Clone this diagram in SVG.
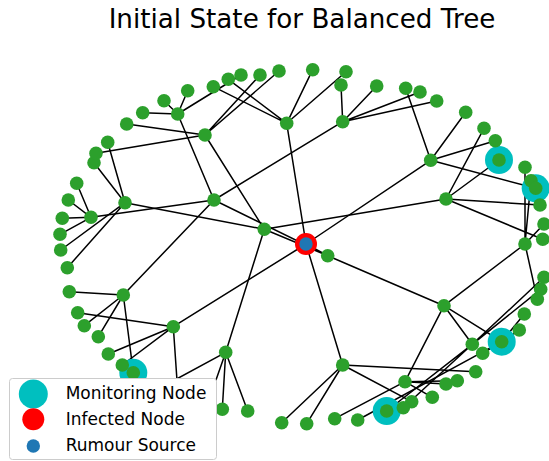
<svg xmlns="http://www.w3.org/2000/svg" width="549" height="461" viewBox="0 0 549 461">
<style>
.e{stroke:#000;stroke-width:1.5;fill:none}
.n{fill:#2ca02c}
.m{fill:#00bfbf}
.t{font-family:"DejaVu Sans","Liberation Sans",sans-serif;fill:#000}
</style>
<rect width="549" height="461" fill="#fff"/>
<text class="t" x="302" y="28" font-size="26.2" text-anchor="middle">Initial State for Balanced Tree</text>
<g id="edges" class="e">
<!-- root and first level -->
<path d="M327.7 255.7L214 200M327.7 255.7L264.3 229.3M327.7 255.7L306 244M327.7 255.7L444 305.7"/>
<path d="M306 244L286.7 123.3M306 244L430.7 160.3M306 244L173.3 326.7M306 244L342.7 365"/>
<path d="M214 200L177.7 114M214 200L342.7 121.7M214 200L123.3 295M214 200L91 217.3"/>
<path d="M264.3 229.3L205 135M264.3 229.3L446 199M264.3 229.3L225.7 352.3M264.3 229.3L125 202.7"/>
<path d="M444 305.7L525 244M444 305.7L472.3 344.3M444 305.7L405 381.7M444 305.7L501.7 341.7"/>
<!-- second level to leaves -->
<path d="M177.7 114L142.7 112.7M177.7 114L164 100.7M177.7 114L187.7 90.7M177.7 114L241 75"/>
<path d="M205 135L126.7 124M205 135L96 153.3M205 135L260 75M205 135L279 71"/>
<path d="M286.7 123.3L213.3 86.7M286.7 123.3L228.3 79.3M286.7 123.3L312.7 69.7M286.7 123.3L346 71.7"/>
<path d="M342.7 121.7L341 85M342.7 121.7L376.7 86M342.7 121.7L420 92M342.7 121.7L436.7 101"/>
<path d="M430.7 160.3L405.7 88.3M430.7 160.3L465.7 112.3M430.7 160.3L495.3 140.7M430.7 160.3L535.7 188.3"/>
<path d="M446 199L484 128.3M446 199L499 160M446 199L540 205M446 199L542.7 239.3"/>
<path d="M525 244L525 167.3M525 244L531 180.7M525 244L544 224M525 244L537.3 299.3"/>
<path d="M91 217.3L76.7 183.3M91 217.3L68.3 200M91 217.3L62.3 218.3M91 217.3L60 234.3"/>
<path d="M125 202.7L107.7 142.3M125 202.7L94 162.7M125 202.7L60.7 250M125 202.7L67.3 267.7"/>
<path d="M123.3 295L69.3 291.7M123.3 295L84.3 325.7M123.3 295L98.3 336.7M123.3 295L133.3 372.7"/>
<path d="M173.3 326.7L77.7 312.7M173.3 326.7L108.3 354M173.3 326.7L122.3 365M173.3 326.7L178 395"/>
<path d="M225.7 352.3L222.3 409.3M225.7 352.3L247.7 411M225.7 352.3L147 395M225.7 352.3L209 400"/>
<path d="M342.7 365L306.7 423.7M342.7 365L281.7 422.7M342.7 365L475.7 371.7M342.7 365L411.7 401.7"/>
<path d="M472.3 344.3L386.7 411M472.3 344.3L403.3 407.7M472.3 344.3L544 277.3M472.3 344.3L540.7 289.3"/>
<path d="M501.7 341.7L357.7 420M501.7 341.7L524.3 314M501.7 341.7L519.3 330M501.7 341.7L482.7 353.3"/>
<path d="M405 381.7L334.7 418.7M405 381.7L446 384M405 381.7L457.3 380.7M405 381.7L432.3 397.3"/>
</g>
<g id="monitors" class="m">
<circle cx="499" cy="160" r="14"/>
<circle cx="535.7" cy="188.3" r="14"/>
<circle cx="501.7" cy="341.7" r="14"/>
<circle cx="386.7" cy="411" r="14"/>
<circle cx="133.3" cy="372.7" r="14"/>
</g>
<g id="nodes" class="n">
<circle id="n1" cx="126.7" cy="124" r="6.8"/>
<circle id="n2" cx="142.7" cy="112.7" r="6.8"/>
<circle id="n3" cx="164" cy="100.7" r="6.8"/>
<circle id="n4" cx="187.7" cy="90.7" r="6.8"/>
<circle id="n5" cx="213.3" cy="86.7" r="6.8"/>
<circle id="n6" cx="228.3" cy="79.3" r="6.8"/>
<circle id="n7" cx="241" cy="75" r="6.8"/>
<circle id="n8" cx="260" cy="75" r="6.8"/>
<circle id="n9" cx="279" cy="71" r="6.8"/>
<circle id="n10" cx="312.7" cy="69.7" r="6.8"/>
<circle id="n11" cx="346" cy="71.7" r="6.8"/>
<circle id="n12" cx="341" cy="85" r="6.8"/>
<circle id="n13" cx="376.7" cy="86" r="6.8"/>
<circle id="n14" cx="405.7" cy="88.3" r="6.8"/>
<circle id="n15" cx="420" cy="92" r="6.8"/>
<circle id="n16" cx="436.7" cy="101" r="6.8"/>
<circle id="n17" cx="465.7" cy="112.3" r="6.8"/>
<circle id="n18" cx="484" cy="128.3" r="6.8"/>
<circle id="n19" cx="495.3" cy="140.7" r="6.8"/>
<circle id="n20" cx="499" cy="160" r="6.8"/>
<circle id="n21" cx="525" cy="167.3" r="6.8"/>
<circle id="n22" cx="531" cy="180.7" r="6.8"/>
<circle id="n23" cx="535.7" cy="188.3" r="6.8"/>
<circle id="n24" cx="540" cy="205" r="6.8"/>
<circle id="n25" cx="544" cy="224" r="6.8"/>
<circle id="n26" cx="542.7" cy="239.3" r="6.8"/>
<circle id="n27" cx="544" cy="277.3" r="6.8"/>
<circle id="n28" cx="540.7" cy="289.3" r="6.8"/>
<circle id="n29" cx="537.3" cy="299.3" r="6.8"/>
<circle id="n30" cx="524.3" cy="314" r="6.8"/>
<circle id="n31" cx="519.3" cy="330" r="6.8"/>
<circle id="n32" cx="501.7" cy="341.7" r="6.8"/>
<circle id="n33" cx="482.7" cy="353.3" r="6.8"/>
<circle id="n34" cx="475.7" cy="371.7" r="6.8"/>
<circle id="n35" cx="457.3" cy="380.7" r="6.8"/>
<circle id="n36" cx="446" cy="384" r="6.8"/>
<circle id="n37" cx="432.3" cy="397.3" r="6.8"/>
<circle id="n38" cx="411.7" cy="401.7" r="6.8"/>
<circle id="n39" cx="403.3" cy="407.7" r="6.8"/>
<circle id="n40" cx="386.7" cy="411" r="6.8"/>
<circle id="n41" cx="357.7" cy="420" r="6.8"/>
<circle id="n42" cx="334.7" cy="418.7" r="6.8"/>
<circle id="n43" cx="306.7" cy="423.7" r="6.8"/>
<circle id="n44" cx="281.7" cy="422.7" r="6.8"/>
<circle id="n45" cx="247.7" cy="411" r="6.8"/>
<circle id="n46" cx="222.3" cy="409.3" r="6.8"/>
<circle id="n47" cx="133.3" cy="372.7" r="6.8"/>
<circle id="n48" cx="122.3" cy="365" r="6.8"/>
<circle id="n49" cx="108.3" cy="354" r="6.8"/>
<circle id="n50" cx="98.3" cy="336.7" r="6.8"/>
<circle id="n51" cx="84.3" cy="325.7" r="6.8"/>
<circle id="n52" cx="77.7" cy="312.7" r="6.8"/>
<circle id="n53" cx="69.3" cy="291.7" r="6.8"/>
<circle id="n54" cx="67.3" cy="267.7" r="6.8"/>
<circle id="n55" cx="60.7" cy="250" r="6.8"/>
<circle id="n56" cx="60" cy="234.3" r="6.8"/>
<circle id="n57" cx="62.3" cy="218.3" r="6.8"/>
<circle id="n58" cx="68.3" cy="200" r="6.8"/>
<circle id="n59" cx="76.7" cy="183.3" r="6.8"/>
<circle id="n60" cx="94" cy="162.7" r="6.8"/>
<circle id="n61" cx="96" cy="153.3" r="6.8"/>
<circle id="n62" cx="107.7" cy="142.3" r="6.8"/>
<circle id="h63" cx="177.7" cy="114" r="6.8"/>
<circle id="h64" cx="205" cy="135" r="6.8"/>
<circle id="h65" cx="286.7" cy="123.3" r="6.8"/>
<circle id="h66" cx="342.7" cy="121.7" r="6.8"/>
<circle id="h67" cx="430.7" cy="160.3" r="6.8"/>
<circle id="h68" cx="446" cy="199" r="6.8"/>
<circle id="h69" cx="525" cy="244" r="6.8"/>
<circle id="h70" cx="444" cy="305.7" r="6.8"/>
<circle id="h71" cx="472.3" cy="344.3" r="6.8"/>
<circle id="h72" cx="405" cy="381.7" r="6.8"/>
<circle id="h73" cx="342.7" cy="365" r="6.8"/>
<circle id="h74" cx="225.7" cy="352.3" r="6.8"/>
<circle id="h75" cx="173.3" cy="326.7" r="6.8"/>
<circle id="h76" cx="123.3" cy="295" r="6.8"/>
<circle id="h77" cx="91" cy="217.3" r="6.8"/>
<circle id="h78" cx="125" cy="202.7" r="6.8"/>
<circle id="h79" cx="214" cy="200" r="6.8"/>
<circle id="h80" cx="264.3" cy="229.3" r="6.8"/>
<circle id="r82" cx="327.7" cy="255.7" r="6.8"/>
</g>
<g id="source">
<circle cx="306" cy="244" r="11" fill="#ff0000"/>
<circle cx="306" cy="244" r="6.7" fill="#1f77b4"/>
</g>
<g id="legend">
<rect x="9.5" y="378.5" width="207" height="81" rx="3" fill="#fff" stroke="#cccccc" stroke-width="1"/>
<circle cx="33.3" cy="394" r="14.5" fill="#00bfbf"/>
<circle cx="33.3" cy="419.3" r="11" fill="#ff0000"/>
<circle cx="33.3" cy="446" r="6.7" fill="#1f77b4"/>
<text class="t" x="65.7" y="399" font-size="17">Monitoring Node</text>
<text class="t" x="65.7" y="425" font-size="17">Infected Node</text>
<text class="t" x="65.7" y="450.5" font-size="17">Rumour Source</text>
</g>
</svg>
